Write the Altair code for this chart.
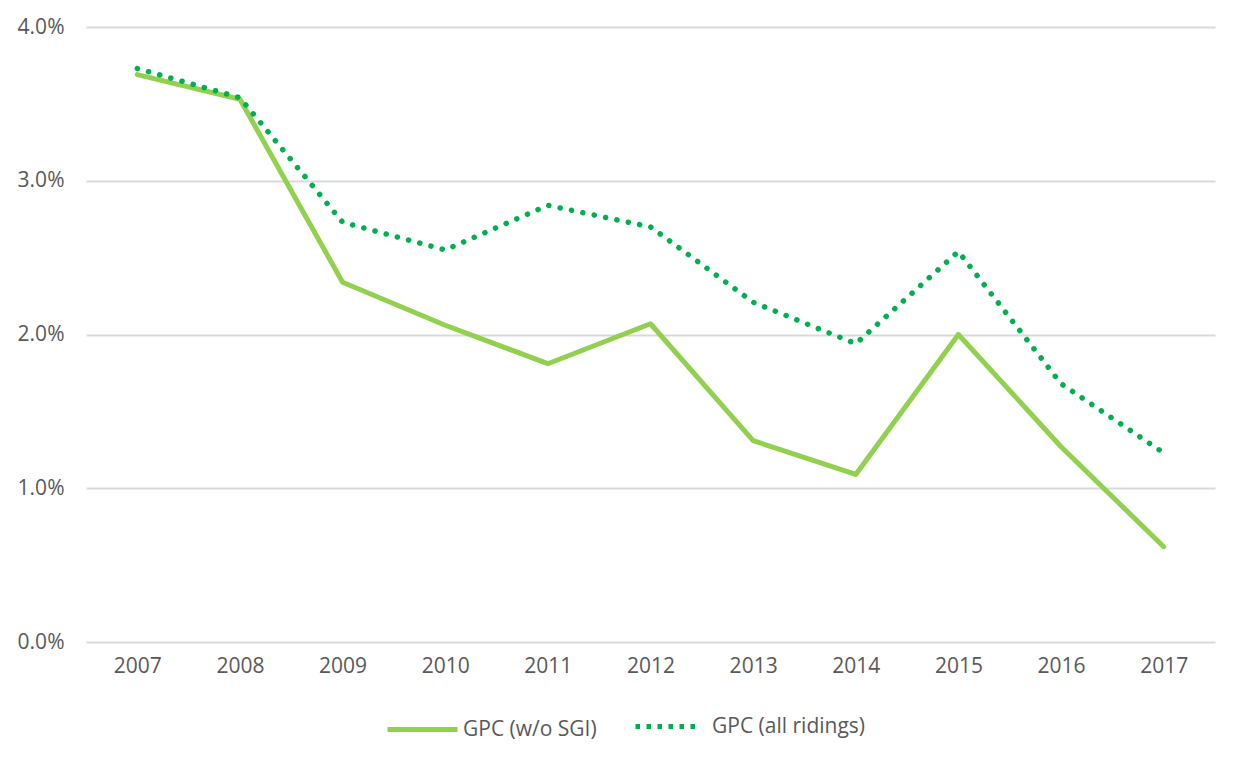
import altair as alt
import pandas as pd

years = ["2007", "2008", "2009", "2010", "2011", "2012", "2013", "2014", "2015", "2016", "2017"]
wo_sgi = [3.69, 3.53, 2.34, 2.06, 1.81, 2.07, 1.31, 1.09, 2.00, 1.27, 0.62]
all_ridings = [3.73, 3.54, 2.73, 2.55, 2.84, 2.70, 2.21, 1.94, 2.54, 1.68, 1.23]
series_names = ["GPC (w/o SGI)", "GPC (all ridings)"]
colors = ["#92D050", "#00B050"]

rows = []
for name, vals in zip(series_names, [wo_sgi, all_ridings]):
    for y, v in zip(years, vals):
        rows.append({"Year": y, "Value": v / 100.0, "Series": name})
df = pd.DataFrame(rows)

font = "Open Sans"
grey = "#595959"

x_enc = alt.X("Year:N", sort=years, scale=alt.Scale(type="point", padding=0.5),
              axis=alt.Axis(title=None, labelAngle=0, domain=False, ticks=False, grid=False,
                            labelFont=font, labelFontSize=21, labelColor=grey, labelPadding=13))
y_enc = alt.Y("Value:Q", scale=alt.Scale(domain=[0, 0.04]),
              axis=alt.Axis(title=None, format=".1%", values=[0, 0.01, 0.02, 0.03, 0.04],
                            domain=False, ticks=False, gridColor="#D9D9D9", gridWidth=2,
                            labelFont=font, labelFontSize=21, labelColor=grey, labelPadding=22))

base = alt.Chart(df)

solid = base.transform_filter(alt.datum.Series == series_names[0]).mark_line(
    strokeWidth=5, strokeCap="round", strokeJoin="round"
).encode(
    x=x_enc, y=y_enc,
    color=alt.Color("Series:N", scale=alt.Scale(domain=[series_names[0]], range=[colors[0]]),
                    legend=alt.Legend(title=None, orient="none", legendX=299, legendY=665,
                                      symbolType="stroke", symbolSize=4900, symbolStrokeWidth=5,
                                      labelFont=font, labelFontSize=21, labelColor=grey,
                                      labelOffset=3)),
    order=alt.Order("Year:N"),
)

dotted = base.transform_filter(alt.datum.Series == series_names[1]).mark_line(
    strokeWidth=5.5, strokeCap="round", strokeJoin="round", strokeDash=[0.1, 11.5]
).encode(
    x=x_enc, y=y_enc,
    stroke=alt.Stroke("Series:N", scale=alt.Scale(domain=[series_names[1]], range=[colors[1]]),
                      legend=alt.Legend(title=None, orient="none", legendX=547, legendY=665,
                                        symbolType="stroke", symbolSize=4096, symbolStrokeWidth=5,
                                        symbolDash=[4.5, 6.5], labelFont=font, labelFontSize=21,
                                        labelColor=grey, labelOffset=10)),
    order=alt.Order("Year:N"),
)

chart = alt.layer(solid, dotted).resolve_scale(color="independent", stroke="independent").properties(
    width=1129, height=615,
    autosize=alt.AutoSizeParams(type="none"),
    padding={"left": 78, "top": 19, "right": 20, "bottom": 110},
).configure_view(stroke=None)

chart.save("out.html", embed_options={"renderer": "svg", "actions": False})
